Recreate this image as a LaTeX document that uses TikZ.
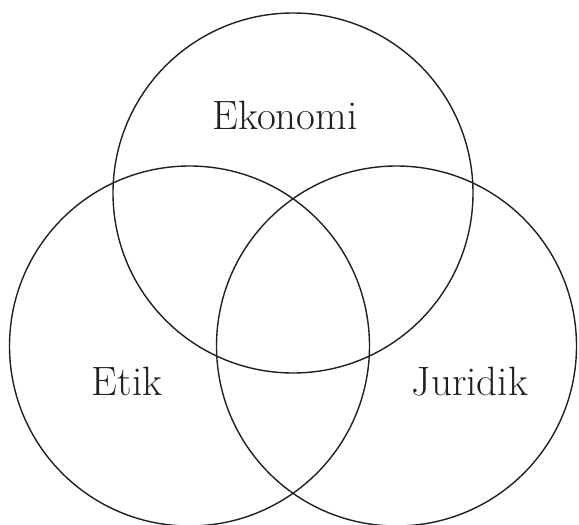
\documentclass[tikz,border=0pt]{standalone}
\definecolor{ink}{HTML}{231F20}
\begin{document}
\begin{tikzpicture}[x=1pt,y=-1pt,
  venn/.style={draw=ink,line width=1.4pt},
  lbl/.style={text=ink,font=\fontsize{41}{44}\selectfont,inner sep=0pt,anchor=base}]
\useasboundingbox (0,0) rectangle (579,525);
\node[venn,circle,minimum size=360pt,inner sep=0pt] (top) at (293,193) {};
\node[venn,circle,minimum size=360pt,inner sep=0pt] (left) at (189.5,346) {};
\node[venn,circle,minimum size=360pt,inner sep=0pt] (right) at (396.5,346) {};
\node[lbl] (eko) at (285,129) {Ekonomi};
\node[lbl] (etik) at (127,395) {Etik};
\node[lbl] (jur) at (470,395) {Juridik};
\end{tikzpicture}
\end{document}
